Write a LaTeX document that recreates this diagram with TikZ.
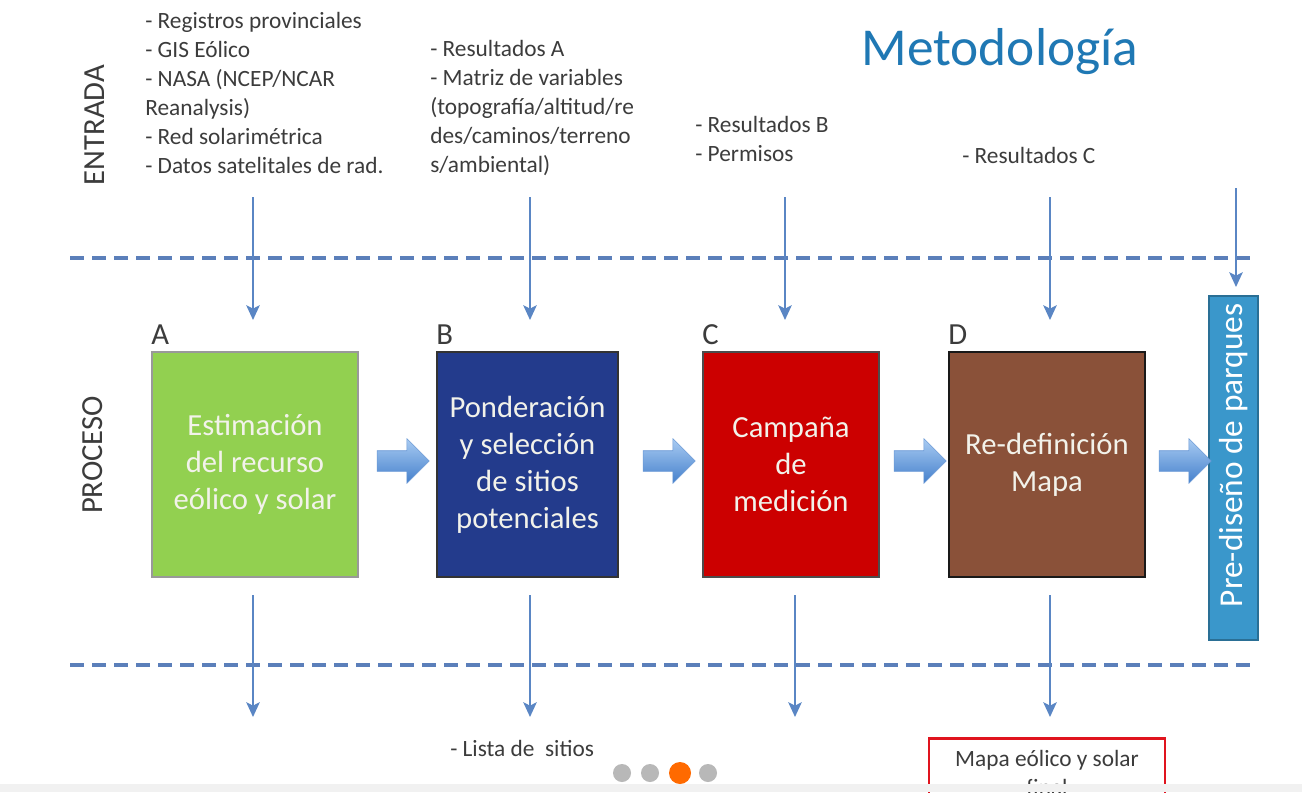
\documentclass[tikz,border=0pt]{standalone}
\usepackage{fontspec}
\setmainfont{Carlito}
\usetikzlibrary{arrows.meta,shapes.arrows,calc}
\definecolor{textgray}{HTML}{3C3C3C}
\definecolor{titleblue}{HTML}{1F78B4}
\definecolor{lineblue}{HTML}{5A86C4}
\definecolor{dashblue}{HTML}{5B7FBA}
\definecolor{boxgreen}{HTML}{92D050}
\definecolor{boxblue}{HTML}{233B8C}
\definecolor{boxred}{HTML}{CC0000}
\definecolor{boxbrown}{HTML}{8A5139}
\definecolor{preblue}{HTML}{3A97CB}
\definecolor{preborder}{HTML}{2A6F95}
\definecolor{boxtext}{HTML}{F2F2EA}
\definecolor{arrtop}{HTML}{A8CBF2}
\definecolor{arrbot}{HTML}{4580CC}
\definecolor{maproj}{HTML}{E0141E}
\definecolor{dotgray}{HTML}{B8B8B8}
\definecolor{dotorange}{HTML}{FF6A00}
\definecolor{bandgray}{HTML}{F1F1F1}
\tikzset{
  txt/.style={font=\fontsize{17.5}{21.75}\selectfont, text=textgray, align=left, inner sep=0pt},
  sidelabel/.style={font=\fontsize{23}{27}\selectfont, text=textgray, rotate=90, inner sep=0pt},
  letter/.style={font=\fontsize{23}{27}\selectfont, text=textgray, inner sep=0pt, anchor=base west},
  procbox/.style={rectangle, line width=1.5pt, align=center, inner sep=0pt,
    font=\fontsize{23}{27.75}\selectfont, text=boxtext},
  downarr/.style={draw=lineblue, line width=1.9pt, -{Stealth[length=11pt,width=10pt,inset=2.5pt]}},
  dashline/.style={draw=dashblue, line width=3pt, dash pattern=on 10.5pt off 6pt},
  fatarrow/.style={single arrow, shape border rotate=0, minimum height=39pt,
    inner xsep=0pt, inner ysep=7.5pt, single arrow head extend=9pt,
    single arrow tip angle=90, top color=arrtop, bottom color=arrbot,
    draw=arrbot!80, line width=0.4pt},
}
\begin{document}
\begin{tikzpicture}[x=0.75pt,y=-0.75pt]
\useasboundingbox (0,0) rectangle (1302,792);
\fill[white] (0,0) rectangle (1302,792);

% title
\node[font=\fontsize{40}{48}\selectfont, text=titleblue, anchor=base, inner sep=0pt] (title) at (1000,65) {Metodología};

% side labels
\node[sidelabel] (entrada) at (95,125) {ENTRADA};
\node[sidelabel] (proceso) at (93,455) {PROCESO};

% input texts
\node[txt, anchor=north west] (in1) at (145,12) {- Registros provinciales\\- GIS Eólico\\- NASA (NCEP/NCAR\\Reanalysis)\\- Red solarimétrica\\- Datos satelitales de rad.};
\node[txt, anchor=north west] (in2) at (430,40) {- Resultados A\\- Matriz de variables\\(topografía/altitud/re\\des/caminos/terreno\\s/ambiental)};
\node[txt, anchor=north west] (in3) at (695,116) {- Resultados B\\- Permisos};
\node[txt, anchor=north west] (in4) at (962,147) {- Resultados C};

% dashed separators
\coordinate (d1l) at (70,258); \coordinate (d1r) at (1255,258);
\coordinate (d2l) at (70,665); \coordinate (d2r) at (1255,665);
\draw[dashline] (d1l) -- (d1r);
\draw[dashline] (d2l) -- (d2r);

% process boxes
\node[procbox, fill=boxgreen, draw=gray!80, minimum width=154.5pt, minimum height=168.75pt] (A) at (255,464.5) {Estimación\\del recurso\\eólico y solar};
\node[procbox, fill=boxblue, draw=black!80, minimum width=135.75pt, minimum height=168.75pt] (B) at (527.5,464.5) {Ponderación\\y selección\\de sitios\\potenciales};
\node[procbox, fill=boxred, draw=black!70, minimum width=132pt, minimum height=168.75pt] (C) at (791,464.5) {Campaña\\de\\medición};
\node[procbox, fill=boxbrown, draw=black!90, minimum width=147pt, minimum height=168.75pt] (D) at (1047,464.5) {Re-definición\\Mapa};
\node[procbox, fill=preblue, draw=preborder, rotate=90, minimum width=258pt, minimum height=36.75pt,
  font=\fontsize{25}{30}\selectfont, text=white] (P) at (1233.5,468) {\hspace*{19pt}Pre-diseño de parques};

% box letters
\node[letter] (la) at ($(A.north west)+(0,-7)$) {A};
\node[letter] (lb) at ($(B.north west)+(0,-7)$) {B};
\node[letter] (lc) at ($(C.north west)+(0,-7)$) {C};
\node[letter] (ld) at ($(D.north west)+(0,-7)$) {D};

% block arrows
\node[fatarrow] (ab) at (398,461) {};
\node[fatarrow] (bc) at (664,461) {};
\node[fatarrow] (cd) at (915,461) {};
\node[fatarrow] (dp) at (1180,461) {};

% input arrows
\coordinate (ta1) at (253,197); \coordinate (ta2) at (253,320);
\coordinate (tb1) at (530,197); \coordinate (tb2) at (530,320);
\coordinate (tc1) at (785,197); \coordinate (tc2) at (785,320);
\coordinate (td1) at (1050,197); \coordinate (td2) at (1050,320);
\coordinate (tp1) at (1236,188);
\draw[downarr] (ta1) -- (ta2);
\draw[downarr] (tb1) -- (tb2);
\draw[downarr] (tc1) -- (tc2);
\draw[downarr] (td1) -- (td2);
\draw[downarr, shorten >=6pt] (tp1) -- (tp1 |- P.east);

% output arrows
\coordinate (ba1) at (253,595); \coordinate (ba2) at (253,717);
\coordinate (bb1) at (530,595); \coordinate (bb2) at (530,717);
\coordinate (bc1) at (795,595); \coordinate (bc2) at (795,717);
\coordinate (bd1) at (1050,595); \coordinate (bd2) at (1050,717);
\draw[downarr] (ba1) -- (ba2);
\draw[downarr] (bb1) -- (bb2);
\draw[downarr] (bc1) -- (bc2);
\draw[downarr] (bd1) -- (bd2);

% outputs
\node[txt, anchor=base west] (out2) at (450,756) {- Lista de \ sitios};
\node[draw=maproj, line width=2.2pt, fill=white, anchor=north, minimum width=177pt, minimum height=52.5pt,
  align=center, inner sep=0pt, font=\fontsize{17.5}{21.75}\selectfont, text=textgray] (map) at (1047,737)
  {Mapa eólico y solar\\final};

% slider band and dots
\fill[bandgray] (0,784) rectangle (1302,792);
\fill[dotgray] (622,773) circle[radius=6.75pt];
\fill[dotgray] (650,773) circle[radius=6.75pt];
\fill[dotorange] (680,773) circle[radius=8.25pt];
\fill[dotgray] (708,773) circle[radius=6.75pt];
\end{tikzpicture}
\end{document}
